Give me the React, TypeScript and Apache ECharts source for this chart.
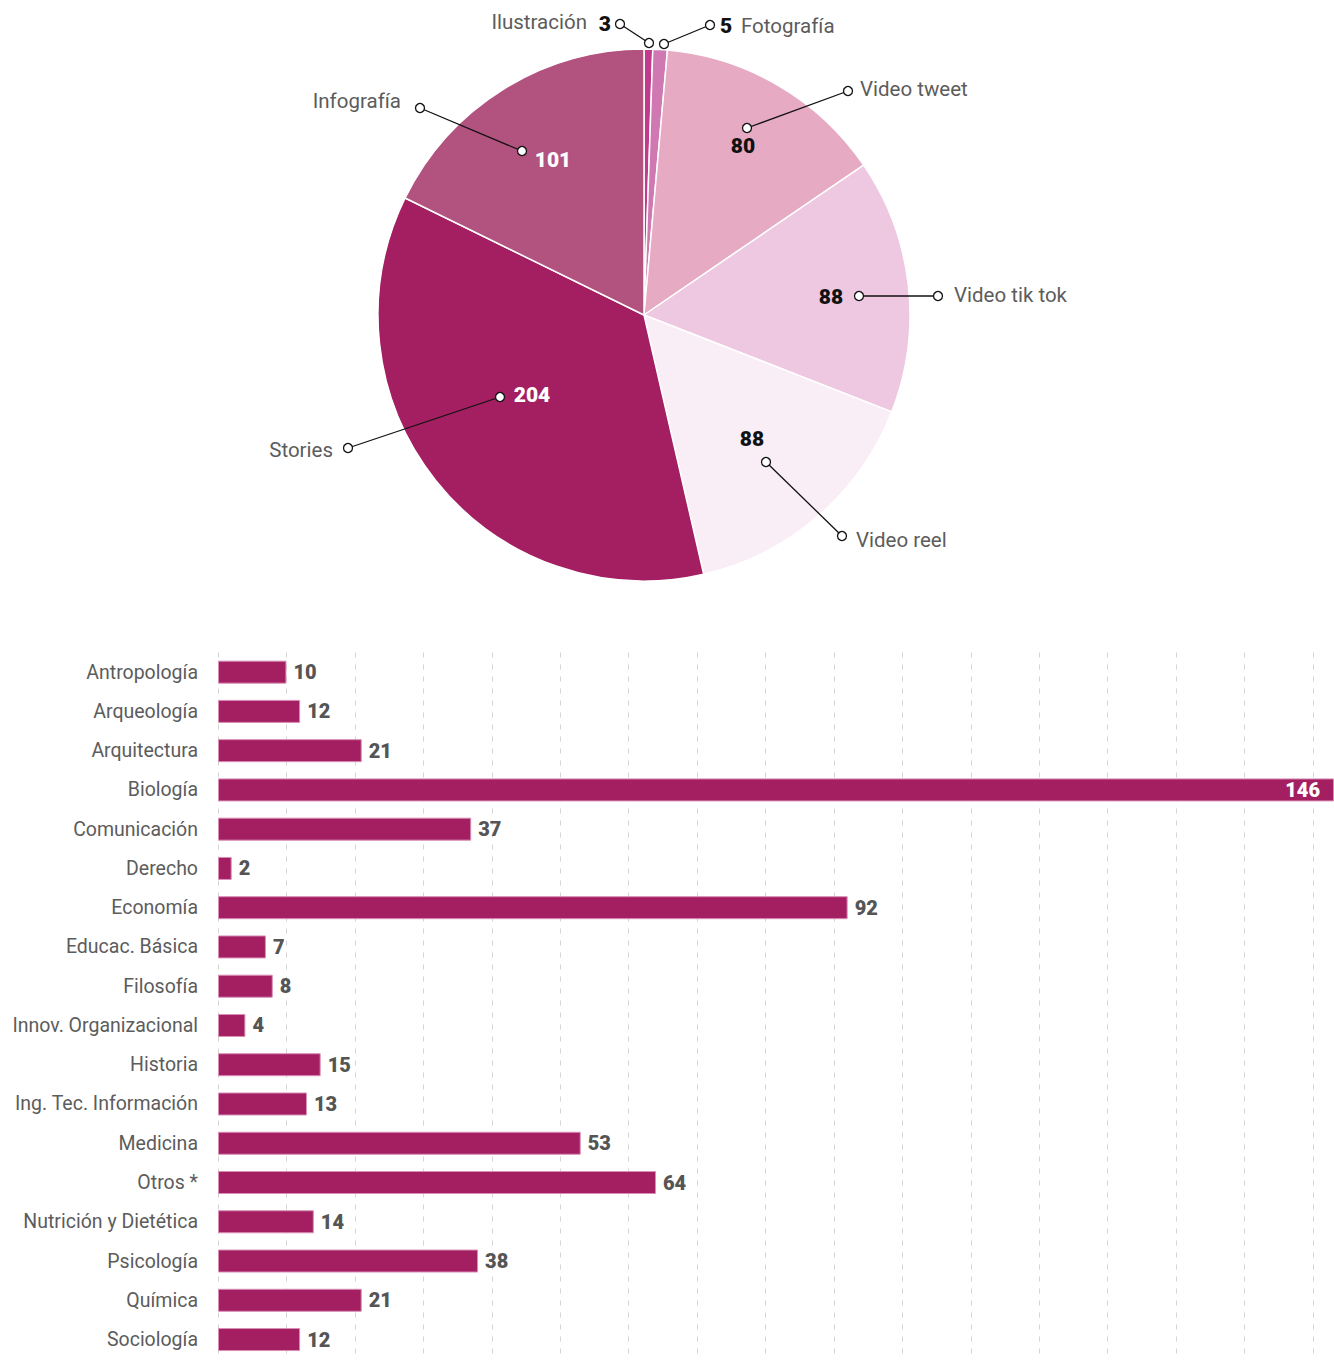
import React, { useEffect, useRef } from "react";
import * as echarts from "echarts";

// ---------- data ----------
const PIE_NAMES = ["Ilustración", "Fotografía", "Video tweet", "Video tik tok", "Video reel", "Stories", "Infografía"];
const PIE_VALUES = [3, 5, 80, 88, 88, 204, 101];

const BAR_CATEGORIES = [
  "Antropología", "Arqueología", "Arquitectura", "Biología", "Comunicación", "Derecho",
  "Economía", "Educac. Básica", "Filosofía", "Innov. Organizacional", "Historia",
  "Ing. Tec. Información", "Medicina", "Otros *", "Nutrición y Dietética", "Psicología",
  "Química", "Sociología",
];
const BAR_VALUES = [10, 12, 21, 146, 37, 2, 92, 7, 8, 4, 15, 13, 53, 64, 14, 38, 21, 12];

// ---------- styles / layout ----------
const PIE_COLORS = ["#c13b8d", "#cf78b1", "#e7aac3", "#eec7e1", "#f9edf6", "#a31f61", "#b2527e"];
const VALUE_COLORS = ["#111", "#111", "#111", "#111", "#111", "#fff", "#fff"];
const CX = 644;
const CY = 315;
const R = 266;
// annotation layout relative to pie center: inner point, outer point, value pos, name pos, alignments
const NOTES = [
  { a: [5, -272], b: [-24, -291], v: [-33, -291], va: "right", n: [-57, -293], na: "right" },
  { a: [20, -271], b: [66, -290], v: [76, -289], va: "left", n: [97, -289], na: "left" },
  { a: [103, -187], b: [204, -224], v: [99, -169], va: "center", n: [216, -226], na: "left" },
  { a: [215, -19], b: [294, -19], v: [187, -18], va: "center", n: [310, -20], na: "left" },
  { a: [122, 147], b: [198, 221], v: [108, 124], va: "center", n: [212, 225], na: "left" },
  { a: [-144, 82], b: [-296, 133], v: [-112, 80], va: "center", n: [-311, 135], na: "right" },
  { a: [-122, -164], b: [-224, -207], v: [-91, -155], va: "center", n: [-243, -214], na: "right" },
];

const BAR_COLOR = "#a31f61";
const BAR_BORDER = "#d98fb6";
const GRID_LEFT = 218;
const GRID_TOP = 652.5;
const ROW_H = 39.26;
const UNIT_PX = 6.844; // px per unit
const CHART_W = 1334;
const CHART_H = 1367;
const X_MAX = (CHART_W - GRID_LEFT) / UNIT_PX;
const OVERFLOW_AT = 140; // bars above this run off the chart edge

const FONT = "Roboto, 'Noto Sans', sans-serif";

function buildGraphics() {
  const els: any[] = [];
  NOTES.forEach((nt, i) => {
    const ax = CX + nt.a[0], ay = CY + nt.a[1];
    const bx = CX + nt.b[0], by = CY + nt.b[1];
    els.push({
      type: "line", z: 100,
      shape: { x1: ax, y1: ay, x2: bx, y2: by },
      style: { stroke: "#111", lineWidth: 1.3 },
    });
    [[ax, ay], [bx, by]].forEach(([x, y]) => {
      els.push({
        type: "circle", z: 101,
        shape: { cx: x, cy: y, r: 4.5 },
        style: { fill: "#fff", stroke: "#111", lineWidth: 1.3 },
      });
    });
    els.push({
      type: "text", z: 102,
      style: {
        text: String(PIE_VALUES[i]),
        x: CX + nt.v[0], y: CY + nt.v[1],
        fill: VALUE_COLORS[i],
        fontSize: 21, fontWeight: 900, fontFamily: FONT,
        align: nt.va, verticalAlign: "middle",
        textAlign: nt.va, textVerticalAlign: "middle",
      },
    });
    els.push({
      type: "text", z: 102,
      style: {
        text: PIE_NAMES[i],
        x: CX + nt.n[0], y: CY + nt.n[1],
        fill: "#5c5c5c",
        fontSize: 20.5, fontFamily: FONT,
        align: nt.na, verticalAlign: "middle",
        textAlign: nt.na, textVerticalAlign: "middle",
      },
    });
  });
  return els;
}

export default function App() {
  const ref = useRef<HTMLDivElement>(null);

  useEffect(() => {
    document.body.style.margin = "0";
    if (!ref.current) return;
    const chart = echarts.init(ref.current, undefined, { renderer: "svg" });
    const gridHeight = ROW_H * BAR_CATEGORIES.length;

    chart.setOption({
      animation: false,
      backgroundColor: "#fff",
      textStyle: { fontFamily: FONT },
      grid: {
        left: GRID_LEFT,
        top: GRID_TOP,
        width: CHART_W - GRID_LEFT,
        height: gridHeight,
        containLabel: false,
      },
      xAxis: {
        type: "value",
        min: 0,
        max: X_MAX,
        interval: 10,
        axisLabel: { show: false },
        axisLine: { show: false },
        axisTick: { show: false },
        splitLine: { show: true, lineStyle: { color: "#d4d4d4", width: 1, type: [5, 7] } },
      },
      yAxis: {
        type: "category",
        inverse: true,
        data: BAR_CATEGORIES,
        axisLine: { show: false },
        axisTick: { show: false },
        axisLabel: { color: "#5c5c5c", fontSize: 19.5, margin: 20, fontFamily: FONT },
      },
      series: [
        {
          type: "pie",
          center: [CX, CY],
          radius: R,
          startAngle: 90,
          clockwise: true,
          silent: true,
          label: { show: false },
          labelLine: { show: false },
          itemStyle: { borderColor: "#fff", borderWidth: 1.5 },
          data: PIE_NAMES.map((name, i) => ({
            name,
            value: PIE_VALUES[i],
            itemStyle: { color: PIE_COLORS[i] },
          })),
        },
        {
          type: "bar",
          barWidth: 23,
          silent: true,
          itemStyle: { color: BAR_COLOR, borderColor: BAR_BORDER, borderWidth: 1 },
          data: BAR_VALUES.map((v) => {
            const over = v > OVERFLOW_AT;
            return {
              value: over ? X_MAX : v,
              label: over
                ? { position: "insideRight", distance: 14, color: "#fff" }
                : undefined,
            };
          }),
          label: {
            show: true,
            position: "right",
            distance: 7,
            color: "#555",
            fontSize: 20,
            fontWeight: 900,
            fontFamily: FONT,
            formatter: (p: any) => String(BAR_VALUES[p.dataIndex]),
          },
        },
      ],
      graphic: buildGraphics(),
    });

    return () => chart.dispose();
  }, []);

  return <div ref={ref} style={{ width: CHART_W, height: CHART_H }} />;
}
